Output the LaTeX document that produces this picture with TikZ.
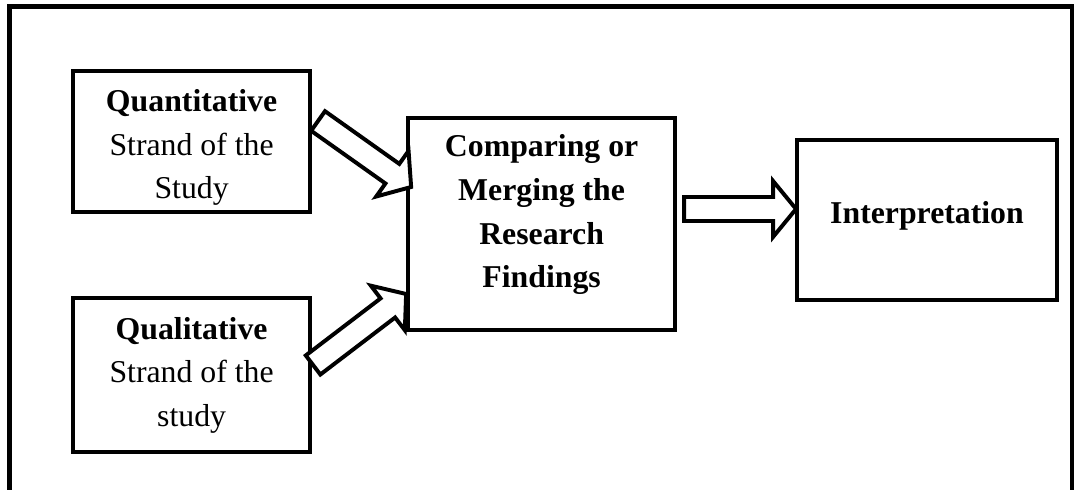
\documentclass[tikz,border=0pt]{standalone}
\usepackage{fontspec}
\setmainfont{Liberation Serif}
\usetikzlibrary{calc}

% freccia a blocco da #1 (coda) a #2 (punta)
\newcommand{\blocco}[2]{%
  \coordinate (#1h) at ($(#2)!0.575cm!(#1)$);
  \draw[freccia] ($(#1)!0.3cm!90:(#2)$) -- ($(#1h)!0.3cm!90:(#2)$)
    -- ($(#1h)!0.7cm!90:(#2)$) -- (#2) -- ($(#1h)!0.7cm!-90:(#2)$)
    -- ($(#1h)!0.3cm!-90:(#2)$) -- ($(#1)!0.3cm!-90:(#2)$) -- cycle;
}

\begin{document}
\begin{tikzpicture}[
    riquadro/.style={draw, line width=2.8pt, align=center,
      font=\fontsize{22.6}{31}\selectfont},
    freccia/.style={draw, fill=white, line width=2.8pt}]
        \useasboundingbox (0,0) rectangle (27.025,12.25);
        % Cornice
        \draw [line width=3.5pt] (0.24,-0.2) -- (0.24,12.09) -- (26.8,12.09) -- (26.8,-0.2);
        % Riquadri
        \node [riquadro, minimum width=5.925cm, minimum height=3.525cm] (quant) at (4.79,8.71)
          {\rule{0pt}{0.86cm}\textbf{Quantitative}\\Strand of the\\Study};
        \node [riquadro, minimum width=5.925cm, minimum height=3.85cm] (qual) at (4.79,2.875)
          {\textbf{Qualitative}\\Strand of the\\study};
        \node [riquadro, minimum width=6.675cm, minimum height=5.3cm] (merge) at (13.54,6.65)
          {\textbf{Comparing or}\\\textbf{Merging the}\\\textbf{Research}\\\textbf{Findings}\\[-0.45cm]};
        \node [riquadro, minimum width=6.5cm, minimum height=4cm] (interp) at (23.175,6.75)
          {\textbf{Interpretation}\\[-0.72cm]};
        % Estremi delle frecce
        \coordinate (t1) at ($(quant.east)+(0.15,0.515)$);
        \coordinate (p1) at ($(merge.west)+(0.125,0.925)$);
        \coordinate (t2) at ($(qual.east)+(0.025,0.25)$);
        \coordinate (p2) at ($(merge.west)+(0,-1.75)$);
        \coordinate (t3) at ($(merge.east)+(0.175,0.375)$);
        \coordinate (p3) at ($(interp.west)+(0.025,0.275)$);
        % Frecce
        \blocco{t1}{p1}
        \blocco{t2}{p2}
        \blocco{t3}{p3}
\end{tikzpicture}
\end{document}
